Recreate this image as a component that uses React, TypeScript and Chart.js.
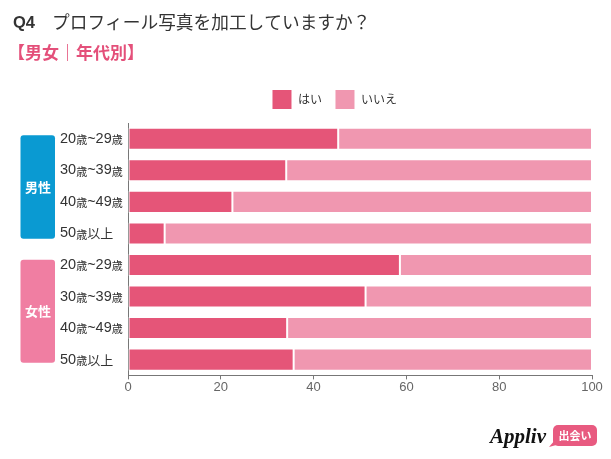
import React, { useEffect, useRef } from 'react';
import { Chart, registerables } from 'chart.js';

Chart.register(...registerables);

const titleQ = 'Q4';
const titleText = 'プロフィール写真を加工していますか？';
const subtitleText = '【男女｜年代別】';
const categories = ['20歳~29歳', '30歳~39歳', '40歳~49歳', '50歳以上', '20歳~29歳', '30歳~39歳', '40歳~49歳', '50歳以上'];
const groupLabels = ['男性', '女性'];
const groupColors = ['#0a9ad2', '#f07ea2'];
const seriesNames = ['はい', 'いいえ'];
const yesValues = [45.3, 34.1, 22.5, 7.9, 58.6, 51.2, 34.3, 35.7];
const noValues = [54.7, 65.9, 77.5, 92.1, 41.4, 48.8, 65.7, 64.3];
const seriesColors = ['#e55578', '#f097b0'];

const JP = '"Noto Sans CJK JP", sans-serif';
const NUM = '"Liberation Sans", "Noto Sans CJK JP", sans-serif';

const legendGapPlugin = {
  id: 'legendGap',
  beforeLayout(chart: any) {
    const leg = chart.legend;
    if (leg && !leg.__patched) {
      const orig = leg.fit.bind(leg);
      leg.fit = () => {
        orig();
        leg.height += 3.5;
      };
      leg.__patched = true;
    }
  },
};

const decorPlugin = {
  id: 'decor',
  afterDraw(chart: any) {
    const ctx = chart.ctx as CanvasRenderingContext2D;
    const ys = chart.scales.y;
    ctx.save();
    // Title
    ctx.textBaseline = 'alphabetic';
    ctx.textAlign = 'left';
    ctx.fillStyle = '#333333';
    ctx.font = 'bold 16.5px ' + NUM;
    ctx.fillText(titleQ, 13, 28);
    ctx.font = '17.7px ' + JP;
    ctx.fillText(titleText, 52, 28.5);
    // Subtitle
    ctx.fillStyle = '#e4507a';
    ctx.font = 'bold 17px ' + JP;
    ctx.fillText(subtitleText, 8, 59);

    // Y labels with small 歳
    ctx.textBaseline = 'middle';
    ctx.fillStyle = '#333333';
    categories.forEach((lab, i) => {
      const cy = ys.getPixelForTick(i);
      let x = 60;
      for (const ch of lab) {
        const small = ch === '歳';
        const isNum = /[0-9~]/.test(ch);
        ctx.font = (small ? '11px ' : isNum ? '14.5px ' : '13px ') + (isNum ? NUM : JP);
        ctx.fillText(ch, x, cy + (small ? 1 : 0));
        x += ctx.measureText(ch).width;
      }
    });

    // Group boxes
    const groups = [
      [0, 3, -3.5, 5.3],
      [4, 7, -5.2, 3],
    ];
    groups.forEach((g, gi) => {
      const top = ys.getPixelForTick(g[0]) + g[2];
      const bottom = ys.getPixelForTick(g[1]) + g[3];
      ctx.fillStyle = groupColors[gi];
      ctx.beginPath();
      (ctx as any).roundRect(20.5, top, 34.5, bottom - top, 3);
      ctx.fill();
      ctx.fillStyle = '#ffffff';
      ctx.font = 'bold 13px ' + JP;
      ctx.textAlign = 'center';
      ctx.textBaseline = 'middle';
      ctx.fillText(groupLabels[gi], 38, (top + bottom) / 2);
      ctx.textAlign = 'left';
    });

    // Logo
    ctx.fillStyle = '#111111';
    ctx.font = 'italic bold 21px "Liberation Serif", serif';
    ctx.textBaseline = 'alphabetic';
    ctx.fillText('Appliv', 490, 443);
    ctx.fillStyle = '#e85a80';
    ctx.beginPath();
    (ctx as any).roundRect(553, 425, 44, 21, 5);
    ctx.fill();
    ctx.beginPath();
    ctx.moveTo(555, 440);
    ctx.lineTo(549, 447);
    ctx.lineTo(560, 444);
    ctx.closePath();
    ctx.fill();
    ctx.fillStyle = '#ffffff';
    ctx.font = 'bold 11px ' + JP;
    ctx.textAlign = 'center';
    ctx.textBaseline = 'middle';
    ctx.fillText('出会い', 575, 436);
    ctx.restore();
  },
};

export default function App() {
  const ref = useRef<HTMLCanvasElement>(null);
  useEffect(() => {
    if (!ref.current) return;
    const chart = new Chart(ref.current, {
      type: 'bar',
      data: {
        labels: categories,
        datasets: [
          {
            label: seriesNames[0],
            data: yesValues,
            backgroundColor: seriesColors[0],
            borderColor: '#ffffff',
            borderWidth: 1,
            borderSkipped: false,
            categoryPercentage: 1,
            barPercentage: 0.7,
          },
          {
            label: seriesNames[1],
            data: noValues,
            backgroundColor: seriesColors[1],
            borderColor: '#ffffff',
            borderWidth: 1,
            borderSkipped: false,
            categoryPercentage: 1,
            barPercentage: 0.7,
          },
        ],
      },
      options: {
        indexAxis: 'y',
        responsive: false,
        animation: false,
        layout: { padding: { left: 77, right: 19, top: 76.5, bottom: 64 } },
        plugins: {
          legend: {
            position: 'top',
            align: 'center',
            labels: {
              boxWidth: 20,
              boxHeight: 20,
              padding: 13,
              color: '#333333',
              font: { size: 12, family: JP },
            },
          },
          tooltip: { enabled: false },
          title: { display: false },
        },
        scales: {
          x: {
            stacked: true,
            min: 0,
            max: 100,
            ticks: { stepSize: 20, color: '#666666', padding: 0, font: { size: 13, family: NUM } },
            grid: { display: true, drawOnChartArea: false, drawTicks: true, tickLength: 4, color: '#777777' },
            border: { display: true, color: '#777777' },
          },
          y: {
            stacked: true,
            ticks: { display: false },
            grid: { display: false },
            border: { display: true, color: '#777777' },
            afterFit: (s: any) => {
              s.width = 51;
            },
          },
        },
      },
      plugins: [legendGapPlugin, decorPlugin],
    } as any);
    return () => chart.destroy();
  }, []);
  return (
    <canvas
      ref={ref}
      width={611}
      height={459}
      style={{ position: 'absolute', left: 0, top: 0, width: 611, height: 459 }}
    />
  );
}
